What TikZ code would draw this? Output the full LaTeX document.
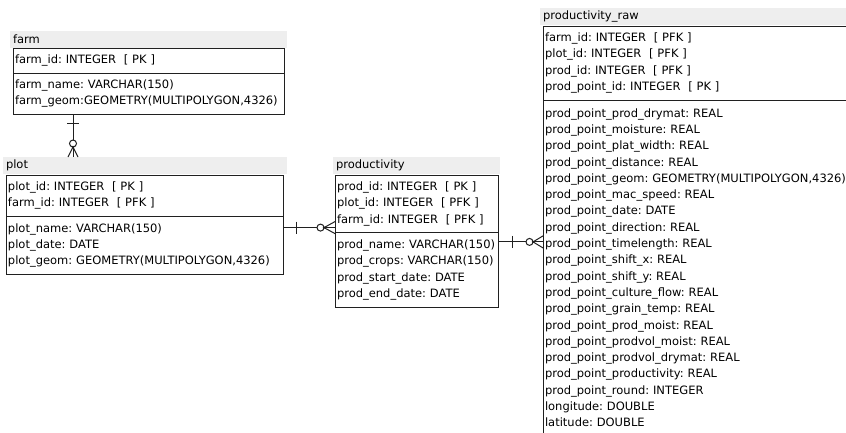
\documentclass[tikz,border=0pt]{standalone}
\usepackage{fontspec}
\setmainfont{DejaVu Sans}
\usetikzlibrary{calc}
\definecolor{titlegray}{HTML}{EEEEEE}
\definecolor{linegray}{HTML}{202020}
\frenchspacing
\begin{document}
\begin{tikzpicture}[x=1pt,y=-1pt,
  every node/.style={font=\fontsize{11.5}{16.3}\selectfont\frenchspacing, inner sep=0pt, outer sep=0pt},
  ttl/.style={fill=titlegray, anchor=north west, minimum height=17pt, align=left, inner xsep=3pt, text=black},
  sect/.style={draw=linegray, line width=1pt, fill=white, anchor=north west, align=left, inner xsep=2pt},
  conn/.style={line width=1pt, draw=linegray},
  zero/.style={line width=1pt, draw=linegray, fill=white},
  dot/.style={fill=linegray}
]
\clip (0,0) rectangle (846,432);
\fill[white] (0,0) rectangle (846,432);

% ---------- farm ----------
\node[ttl, minimum width=277pt, text width=271pt] (farmttl) at (10,31) {farm};
\node[sect, text width=267pt, minimum height=25pt] (farmkey) at (13,48) {farm\_id: INTEGER~~[~PK~]};
\node[sect, text width=267pt, minimum height=41pt] (farmattr) at (farmkey.south west) {farm\_name: VARCHAR(150)\\farm\_geom:GEOMETRY(MULTIPOLYGON,4326)};

% ---------- plot ----------
\node[ttl, minimum width=284pt, text width=278pt] (plotttl) at (3,157) {plot};
\node[sect, text width=273pt, minimum height=41.6pt] (plotkey) at (6,175) {plot\_id: INTEGER~~[~PK~]\\farm\_id: INTEGER~~[~PFK~]};
\node[sect, text width=273pt, minimum height=57.9pt] (plotattr) at (plotkey.south west) {plot\_name: VARCHAR(150)\\plot\_date: DATE\\plot\_geom: GEOMETRY(MULTIPOLYGON,4326)};

% ---------- productivity ----------
\node[ttl, minimum width=167pt, text width=161pt] (prodttl) at (333,157) {productivity};
\node[sect, text width=159pt, minimum height=57.9pt] (prodkey) at (335,175) {prod\_id: INTEGER~~[~PK~]\\plot\_id: INTEGER~~[~PFK~]\\farm\_id: INTEGER~~[~PFK~]};
\node[sect, text width=159pt, minimum height=74.2pt] (prodattr) at (prodkey.south west) {prod\_name: VARCHAR(150)\\prod\_crops: VARCHAR(150)\\prod\_start\_date: DATE\\prod\_end\_date: DATE};

% ---------- productivity_raw ----------
\node[ttl, minimum width=320pt, text width=314pt] (rawttl) at (540,8) {productivity\_raw};
\node[sect, text width=316pt, minimum height=74.2pt] (rawkey) at (543,26) {farm\_id: INTEGER~~[~PFK~]\\plot\_id: INTEGER~~[~PFK~]\\prod\_id: INTEGER~~[~PFK~]\\prod\_point\_id: INTEGER~~[~PK~]};
\node[sect, text width=316pt, minimum height=335pt] (rawattr) at (rawkey.south west) {prod\_point\_prod\_drymat: REAL\\
prod\_point\_moisture: REAL\\
prod\_point\_plat\_width: REAL\\
prod\_point\_distance: REAL\\
prod\_point\_geom: GEOMETRY(MULTIPOLYGON,4326)\\
prod\_point\_mac\_speed: REAL\\
prod\_point\_date: DATE\\
prod\_point\_direction: REAL\\
prod\_point\_timelength: REAL\\
prod\_point\_shift\_x: REAL\\
prod\_point\_shift\_y: REAL\\
prod\_point\_culture\_flow: REAL\\
prod\_point\_grain\_temp: REAL\\
prod\_point\_prod\_moist: REAL\\
prod\_point\_prodvol\_moist: REAL\\
prod\_point\_prodvol\_drymat: REAL\\
prod\_point\_productivity: REAL\\
prod\_point\_round: INTEGER\\
longitude: DOUBLE\\
latitude: DOUBLE};

% ---------- connector farm -> plot ----------
\path (farmattr.south west) ++(60,0) coordinate (fpA);
\path (fpA |- plotttl.north) coordinate (fpB);
\path (fpA) ++(0,9) coordinate (fpBar);
\path (fpA) ++(0,33) coordinate (fpCrow);
\draw[conn] (fpA) -- (fpB);
\draw[conn] ($(fpBar)+(-6,0)$) -- ($(fpBar)+(6,0)$);
\draw[conn] (fpCrow) -- ($(fpB)+(-5,0)$);
\draw[conn] (fpCrow) -- ($(fpB)+(5,0)$);
\draw[zero] ($(fpCrow)+(0,-3.5)$) circle (3.5pt);
\fill[dot] (fpCrow) circle (1.3pt);

% ---------- connector plot -> productivity ----------
\path (plotattr.north east) ++(0,11) coordinate (ppA);
\path (ppA -| prodkey.west) coordinate (ppB);
\path (ppA) ++(13,0) coordinate (ppBar);
\path (ppB) ++(-11,0) coordinate (ppCrow);
\draw[conn] (ppA) -- (ppB);
\draw[conn] ($(ppBar)+(0,-6)$) -- ($(ppBar)+(0,6)$);
\draw[conn] (ppCrow) -- ($(ppB)+(0,-6)$);
\draw[conn] (ppCrow) -- ($(ppB)+(0,6)$);
\draw[zero] ($(ppCrow)+(-3.5,0)$) circle (3.5pt);
\fill[dot] (ppCrow) circle (1.3pt);

% ---------- connector productivity -> productivity_raw ----------
\path (prodattr.north east) ++(0,9) coordinate (prA);
\path (prA -| rawattr.west) coordinate (prB);
\path (prA) ++(14,0) coordinate (prBar);
\path (prB) ++(-10,0) coordinate (prCrow);
\draw[conn] (prA) -- (prB);
\draw[conn] ($(prBar)+(0,-6)$) -- ($(prBar)+(0,6)$);
\draw[conn] (prCrow) -- ($(prB)+(0,-6)$);
\draw[conn] (prCrow) -- ($(prB)+(0,6)$);
\draw[zero] ($(prCrow)+(-3.5,0)$) circle (3.5pt);
\fill[dot] (prCrow) circle (1.3pt);
\end{tikzpicture}
\end{document}
